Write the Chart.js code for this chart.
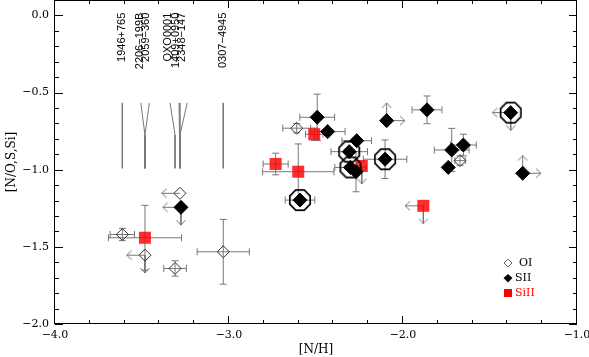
<!DOCTYPE html>
<html lang="en">
<head>
<meta charset="utf-8">
<script src="https://cdn.jsdelivr.net/npm/chart.js@4.4.1/dist/chart.umd.min.js"></script>
<style>
  body { margin: 0; background: #fff; }
  #chart { display: block; }
</style>
</head>
<body>
<canvas id="chart" width="589" height="357"></canvas>
<script>
// OI (open diamonds)
const oiX    = [-3.613, -3.483, -3.282, -3.310, -3.033, -2.611, -1.672];
const oiY    = [-1.420, -1.554, -1.153, -1.640, -1.532, -0.731, -0.941];
const oiXErr = [0.07, 0, 0, 0.065, 0.15, 0.08, 0.03];
const oiYErr = [0.04, 0, 0, 0.05, 0.21, 0.03, 0.03];
const oiXLim = [0, -1, -1, 0, 0, 0, 0];
const oiYLim = [0, -1, 0, 0, 0, 0, 0];

// SII (filled diamonds), ring = circled points
const siiX    = [-3.276, -2.493, -2.433, -2.266, -2.309, -2.302, -2.270, -2.103, -2.094, -1.862, -1.720, -1.653, -1.740, -1.381, -1.312, -2.592];
const siiY    = [-1.244, -0.660, -0.753, -0.812, -0.883, -0.985, -1.013, -0.932, -0.682, -0.612, -0.872, -0.840, -0.985, -0.630, -1.023, -1.197];
const siiXErr = [0, 0.1, 0.1, 0.085, 0.105, 0.09, 0, 0.125, 0, 0.086, 0.1, 0.074, 0, 0, 0, 0.085];
const siiYErr = [0, 0.15, 0, 0, 0, 0, 0.13, 0.125, 0, 0.09, 0.14, 0.07, 0, 0, 0, 0];
const siiXLim = [-1, 0, 0, 0, 0, 0, 0, 0, 1, 0, 0, 0, 0, -1, 1, 0];
const siiYLim = [-1, 0, 0, 0, 0, 0, 0, 0, 1, 0, 0, 0, 0, -1, 1, 0];
const siiRing = [0, 0, 0, 0, 1, 1, 0, 1, 0, 0, 0, 0, 0, 1, 0, 1];

// SiII (red squares)
const siX    = [-3.483, -2.732, -2.602, -2.510, -2.237, -1.883];
const siY    = [-1.441, -0.963, -1.013, -0.770, -0.976, -1.234];
const siXErr = [0.21, 0.072, 0.205, 0.05, 0, 0];
const siYErr = [0.21, 0.07, 0.18, 0.04, 0, 0];
const siXLim = [0, 0, 0, 0, 0, -1];
const siYLim = [0, 0, 0, 0, -1, -1];

// QSO name markers at the top
const qsoNames  = ['1946+765', '2206\u2212199B', '2059\u2212360', 'QXO0001', '1409+0950', '2348\u2212147', '0307\u22124945'];
const qsoLabelX = [-3.617, -3.511, -3.480, -3.349, -3.305, -3.272, -3.033];
const qsoTopX   = [-3.613, -3.507, -3.458, -3.339, -3.287, -3.240, -3.033];
const qsoBaseX  = [-3.613, -3.483, -3.483, -3.310, -3.282, -3.282, -3.033];
const qsoLabelY = 0.018;
const qsoLineTop = -0.567, qsoLineMerge = -0.775, qsoLineBottom = -0.991;

const xTicks = [-4, -3, -2, -1];
const yTicks = [-2, -1.5, -1, -0.5, 0];

const ERR = '#777';
const ARROW_X = 0.105, ARROW_Y = 0.115;
const SERIF = "'DejaVu Serif', serif";

function makeArrowHead() {
  const c = document.createElement('canvas');
  c.width = 14; c.height = 14;
  const g = c.getContext('2d');
  g.strokeStyle = ERR; g.lineWidth = 1;
  g.beginPath(); g.moveTo(2, 2.5); g.lineTo(7, 7); g.lineTo(2, 11.5); g.stroke();
  return c;
}
function makeOctagon() {
  const c = document.createElement('canvas');
  c.width = 28; c.height = 28;
  const g = c.getContext('2d');
  g.strokeStyle = '#000'; g.lineWidth = 1.7;
  g.beginPath();
  for (let k = 0; k < 8; k++) {
    const a = Math.PI / 8 + k * Math.PI / 4;
    const px = 14 + 11 * Math.cos(a), py = 14 + 11 * Math.sin(a);
    if (k) g.lineTo(px, py); else g.moveTo(px, py);
  }
  g.closePath(); g.stroke();
  return c;
}
const arrowHead = makeArrowHead();
const octagon = makeOctagon();

const datasets = [];
function bar(pts, rot) {
  return { data: pts, showLine: true, borderColor: ERR, borderWidth: 1,
    pointStyle: 'line', pointRadius: 3.5, pointRotation: rot,
    pointBorderColor: ERR, pointBorderWidth: 1, order: 5 };
}
function arrow(a, b, rot) {
  return { data: [a, b], showLine: true, borderColor: ERR, borderWidth: 1,
    pointStyle: arrowHead, pointRadius: [0, 7], pointRotation: rot, order: 5 };
}
function addErrors(xs, ys, xe, ye, xl, yl) {
  xs.forEach((x, i) => {
    const y = ys[i];
    if (xe[i]) datasets.push(bar([{x: x - xe[i], y}, {x: x + xe[i], y}], 90));
    if (ye[i]) datasets.push(bar([{x, y: y - ye[i]}, {x, y: y + ye[i]}], 0));
    if (xl[i]) datasets.push(arrow({x, y}, {x: x + xl[i] * ARROW_X, y}, xl[i] > 0 ? 0 : 180));
    if (yl[i]) datasets.push(arrow({x, y}, {x, y: y + yl[i] * ARROW_Y}, yl[i] > 0 ? 270 : 90));
  });
}
addErrors(oiX, oiY, oiXErr, oiYErr, oiXLim, oiYLim);
addErrors(siiX, siiY, siiXErr, siiYErr, siiXLim, siiYLim);
addErrors(siX, siY, siXErr, siYErr, siXLim, siYLim);

qsoNames.forEach((n, i) => {
  datasets.push({ data: [{x: qsoTopX[i], y: qsoLineTop}, {x: qsoBaseX[i], y: qsoLineMerge}, {x: qsoBaseX[i], y: qsoLineBottom}],
    showLine: true, borderColor: '#777', borderWidth: 1, pointRadius: 0, order: 6 });
});

datasets.push({ label: 'SiII', data: siX.map((x, i) => ({x, y: siY[i]})), pointStyle: 'rect', pointRadius: 8.5,
  pointBackgroundColor: 'rgba(255,0,0,0.82)', pointBorderWidth: 0, showLine: false, order: 2 });
datasets.push({ label: 'SII', data: siiX.map((x, i) => ({x, y: siiY[i]})), pointStyle: 'rectRot', pointRadius: 7,
  pointBackgroundColor: '#000', pointBorderColor: '#000', pointBorderWidth: 1, showLine: false, order: 1 });
datasets.push({ label: 'ring', data: siiX.map((x, i) => ({x, y: siiY[i]})).filter((p, i) => siiRing[i]), pointStyle: octagon,
  pointRadius: 12, showLine: false, order: 0 });
datasets.push({ label: 'OI', data: oiX.map((x, i) => ({x, y: oiY[i]})), pointStyle: 'rectRot', pointRadius: 6,
  pointBackgroundColor: 'rgba(0,0,0,0)', pointBorderColor: '#333', pointBorderWidth: 1, showLine: false, order: 1 });

function fmt(v) { return (v < 0 ? '\u2212' : '') + Math.abs(v).toFixed(1); }

const framePlugin = {
  id: 'frame',
  beforeDraw(chart) {
    const c = chart.ctx;
    c.save(); c.fillStyle = '#fff'; c.fillRect(0, 0, chart.width, chart.height); c.restore();
  },
  afterDraw(chart) {
    const {ctx, chartArea: a, scales: {x, y}} = chart;
    ctx.save();
    ctx.strokeStyle = '#000'; ctx.lineWidth = 1;
    ctx.strokeRect(a.left - 0.5, a.top + 0.5, a.right - a.left, a.bottom - a.top - 1);
    ctx.beginPath();
    for (let k = 0; k <= 15; k++) {
      const px = Math.round(x.getPixelForValue(-4 + k * 0.2)) - 0.5;
      const len = k % 5 === 0 ? 8 : 4;
      ctx.moveTo(px, a.bottom); ctx.lineTo(px, a.bottom - len);
      ctx.moveTo(px, a.top); ctx.lineTo(px, a.top + len);
    }
    for (let k = 0; k <= 21; k++) {
      const py = Math.round(y.getPixelForValue(-2 + k * 0.1)) + 0.5;
      const len = k % 5 === 0 ? 8 : 4;
      ctx.moveTo(a.left, py); ctx.lineTo(a.left + len, py);
      ctx.moveTo(a.right, py); ctx.lineTo(a.right - len, py);
    }
    ctx.stroke();

    // QSO names
    ctx.fillStyle = '#000';
    ctx.font = "11px 'Liberation Sans', Arial, sans-serif";
    ctx.textAlign = 'right'; ctx.textBaseline = 'middle';
    qsoNames.forEach((n, i) => {
      ctx.save();
      ctx.translate(x.getPixelForValue(qsoLabelX[i]), y.getPixelForValue(qsoLabelY));
      ctx.rotate(-Math.PI / 2);
      ctx.fillText(n, 0, 0);
      ctx.restore();
    });

    // legend
    const lx = a.right - 69, ly = a.bottom - 61;
    ctx.font = '11px ' + SERIF; ctx.textAlign = 'left';
    ctx.strokeStyle = '#666';
    ctx.beginPath();
    ctx.moveTo(lx, ly - 4); ctx.lineTo(lx + 4, ly); ctx.lineTo(lx, ly + 4); ctx.lineTo(lx - 4, ly); ctx.closePath();
    ctx.stroke();
    ctx.fillStyle = '#000';
    ctx.fillText('OI', lx + 11, ly);
    ctx.beginPath();
    ctx.moveTo(lx, ly + 11); ctx.lineTo(lx + 4.5, ly + 15); ctx.lineTo(lx, ly + 19.5); ctx.lineTo(lx - 4.5, ly + 15); ctx.closePath();
    ctx.fill();
    ctx.fillText('SII', lx + 7, ly + 15);
    ctx.fillStyle = '#f00';
    ctx.fillRect(lx - 4, ly + 26, 8, 8);
    ctx.fillText('SiII', lx + 7, ly + 30);
    ctx.restore();
  }
};

new Chart(document.getElementById('chart'), {
  type: 'scatter',
  data: { datasets },
  options: {
    responsive: false,
    animation: false,
    events: [],
    devicePixelRatio: 1,
    layout: { autoPadding: false, padding: { left: 0, right: 12, top: 0, bottom: 0 } },
    plugins: { legend: { display: false }, tooltip: { enabled: false } },
    scales: {
      x: {
        type: 'linear', min: -4, max: -1,
        afterBuildTicks: s => { s.ticks = xTicks.map(v => ({value: v})); },
        afterFit: s => { s.height = 33; s.paddingLeft = 0; s.paddingRight = 0; },
        grid: { display: false, drawTicks: false, tickLength: 0 },
        border: { display: false },
        ticks: { callback: fmt, color: '#000', font: { family: SERIF, size: 11 }, padding: 5, maxRotation: 0, autoSkip: false },
        title: { display: true, text: '[N/H]', color: '#000', font: { family: SERIF, size: 12 }, padding: { top: 0, bottom: 0 } }
      },
      y: {
        type: 'linear', min: -2, max: 0.1,
        afterBuildTicks: s => { s.ticks = yTicks.map(v => ({value: v})); },
        afterFit: s => { s.width = 55; s.paddingTop = 0; s.paddingBottom = 0; },
        grid: { display: false, drawTicks: false, tickLength: 0 },
        border: { display: false },
        ticks: { callback: fmt, color: '#000', font: { family: SERIF, size: 11 }, padding: 6, autoSkip: false },
        title: { display: true, text: '[N/O,S,Si]', color: '#000', font: { family: SERIF, size: 12 }, padding: { top: 5, bottom: 0 } }
      }
    }
  },
  plugins: [framePlugin]
});
</script>
</body>
</html>
